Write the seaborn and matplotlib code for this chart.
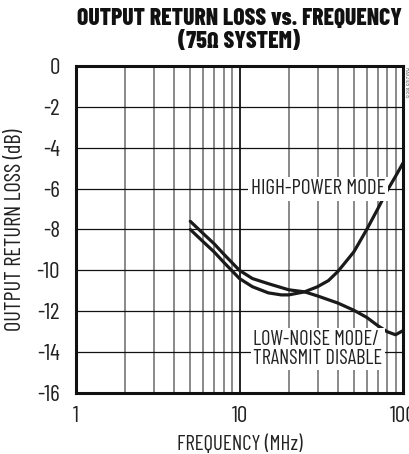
import matplotlib
matplotlib.use("Agg")
import matplotlib.pyplot as plt
import pandas as pd
import seaborn as sns

# ---------- Data ---------- #
freq_low_noise = [5, 6, 7, 8, 10, 12, 15, 20, 25, 30, 40, 50, 60, 70, 80, 90, 100]
rl_low_noise = [-7.6, -8.2, -8.7, -9.2, -10.0, -10.4, -10.65, -10.95, -11.05,
                -11.25, -11.6, -11.95, -12.3, -12.7, -13.0, -13.15, -12.95]

freq_high_power = [5, 6, 7, 8, 10, 12, 15, 18, 20, 25, 30, 35, 40, 50, 60, 70,
                   80, 90, 100]
rl_high_power = [-8.0, -8.6, -9.1, -9.6, -10.4, -10.8, -11.1, -11.2, -11.2,
                 -11.05, -10.8, -10.5, -10.05, -9.1, -8.0, -7.0, -6.1, -5.4,
                 -4.75]

y_ticks = [0, -2, -4, -6, -8, -10, -12, -14, -16]
x_ticks = [1, 10, 100]
x_tick_labels = ["1", "10", "100"]

df = pd.concat([
    pd.DataFrame({"freq": freq_low_noise, "rl": rl_low_noise, "mode": "low"}),
    pd.DataFrame({"freq": freq_high_power, "rl": rl_high_power, "mode": "high"}),
])

# ---------- Plot ---------- #
sns.set_style("white")
plt.rcParams["font.family"] = ["Barlow Condensed", "Roboto Condensed", "DejaVu Sans"]

TXT = "#222222"
fig = plt.figure(figsize=(4.09, 4.54), dpi=100)
ax = fig.add_axes([76 / 409, 1 - 393 / 454, 327 / 409, 327 / 454])

sns.lineplot(data=df, x="freq", y="rl", units="mode", estimator=None,
             color="#1a1a1a", linewidth=2.3, ax=ax, sort=False)

ax.set_xscale("log")
ax.set_xlim(1, 100)
ax.set_ylim(-16, 0)
ax.set_xticks(x_ticks)
ax.set_xticklabels(x_tick_labels)
ax.set_yticks(y_ticks)
ax.set_yticklabels([str(v) for v in y_ticks])
ax.tick_params(axis="both", length=0, labelsize=13, colors=TXT)
ax.tick_params(axis="y", pad=11.5)
ax.tick_params(axis="x", pad=9)

# grid: grey verticals (log decades), black horizontals
ax.grid(which="both", axis="x", color="#6a6a6a", linewidth=1.1)
ax.grid(which="major", axis="x", color="#111111", linewidth=1.3)
ax.grid(which="major", axis="y", color="#111111", linewidth=0.9)
ax.set_axisbelow(True)

for spine in ax.spines.values():
    spine.set_visible(True)
    spine.set_color("#111111")
    spine.set_linewidth(2.2)

xlab = ax.set_xlabel("FREQUENCY (MHz)", fontsize=13, color=TXT, labelpad=6)
ylab = ax.set_ylabel("OUTPUT RETURN LOSS (dB)", fontsize=13, color=TXT)
ax.yaxis.set_label_coords(-0.153, 0.5)

title = ax.set_title("OUTPUT RETURN LOSS vs. FREQUENCY\n(75\u03a9 SYSTEM)",
                     fontsize=15, fontweight=800, pad=13, linespacing=1.05,
                     color="#111111")

# curve labels
box = dict(facecolor="white", edgecolor="none", pad=1.5)
hp = ax.text(78, -6, "HIGH-POWER MODE", ha="right", va="center", fontsize=13,
             color=TXT, bbox=box)
ln = ax.text(12.1, -13.85, "LOW-NOISE MODE/\nTRANSMIT DISABLE", ha="left",
             va="center", fontsize=13, color=TXT, bbox=box, linespacing=1.0)

# scale text sizes so their widths match the reference (in pixels)
fig.canvas.draw()
renderer = fig.canvas.get_renderer()


def fit_width(t, target):
    w = t.get_window_extent(renderer).width
    t.set_fontsize(t.get_fontsize() * target / w)


fit_width(title, 325)
fit_width(hp, 135)
fit_width(ln, 128)
fit_width(xlab, 126)

# y label: measure it unrotated
ylab.set_rotation(0)
fit_width(ylab, 202)
ylab.set_rotation(90)

tl = ax.get_yticklabels()[-1]  # "-16"
tick_size = tl.get_fontsize() * 23 / tl.get_window_extent(renderer).width
ax.tick_params(axis="both", labelsize=tick_size)

# tiny figure id at the right edge
fig.text(1.0, 0.82, "MAX2105 toc15", rotation=270, fontsize=4.5,
         color="#555555", ha="right", va="center")

fig.savefig("out.png", dpi=100)
